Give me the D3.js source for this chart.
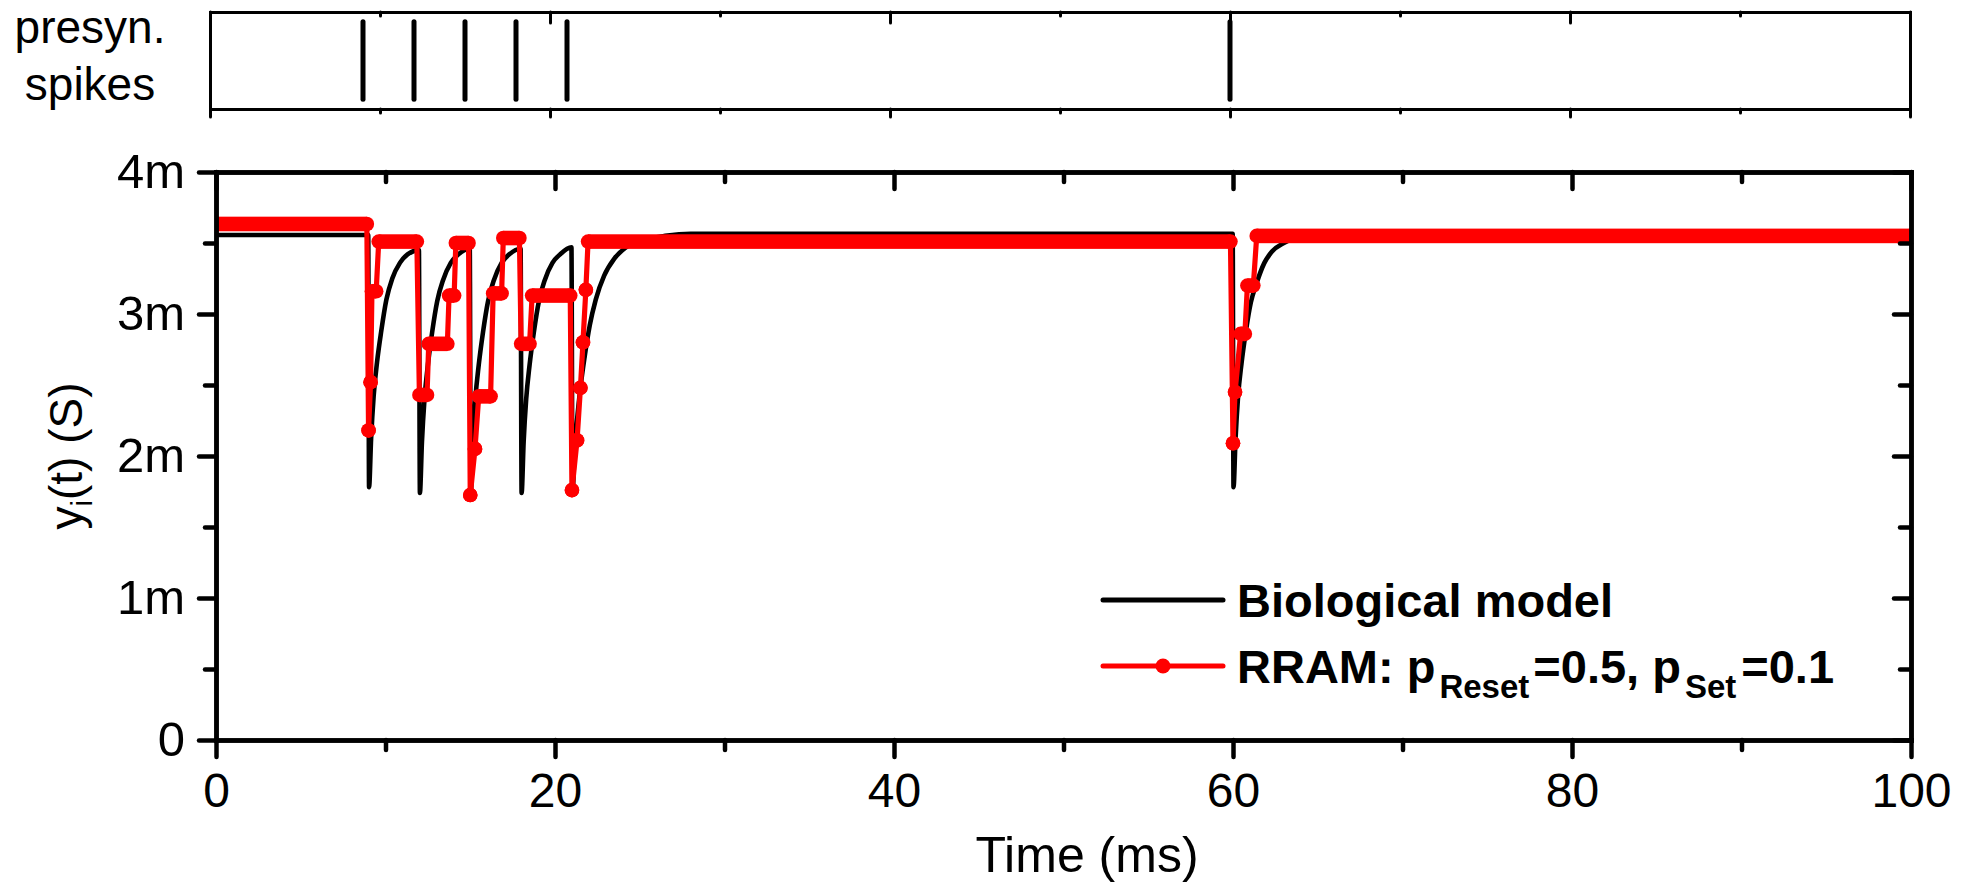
<!DOCTYPE html>
<html><head><meta charset="utf-8">
<script src="https://cdn.jsdelivr.net/npm/d3@7"></script>
<style>
html,body{margin:0;padding:0;background:#fff;}
svg{display:block;}
</style></head><body>
<svg id="chart" width="1973" height="882"></svg>
<script>
// ---------------- data ----------------
const spikeTimes = [9, 12, 15, 18, 21, 60];
const xTicksMajor = [0, 20, 40, 60, 80, 100];
const xTicksMinor = [10, 30, 50, 70, 90];
const yTicksMajor = [0, 1, 2, 3, 4];          // mS
const yTicksMinor = [0.5, 1.5, 2.5, 3.5];
const yTickLabels = ["0", "1m", "2m", "3m", "4m"];

// Biological model (mS)
const bioTime = [0, 8.98, 9.03, 9.15, 9.3, 9.5, 9.75, 10.05, 10.4, 10.85, 11.3, 11.97,
  12.03, 12.15, 12.3, 12.5, 12.75, 13.05, 13.4, 13.85, 14.3, 14.97,
  15.03, 15.15, 15.3, 15.5, 15.75, 16.05, 16.4, 16.85, 17.3, 17.97,
  18.03, 18.15, 18.3, 18.5, 18.75, 19.05, 19.4, 19.85, 20.3, 20.97,
  21.03, 21.15, 21.3, 21.5, 21.75, 22.05, 22.4, 22.9, 23.5, 24.2, 25.2, 26.5, 28,
  59.98, 60.03, 60.15, 60.3, 60.5, 60.75, 61.05, 61.4, 61.85, 62.3, 63, 64, 65.5, 100];
const bioValue = [3.556, 3.556, 1.78, 2.12, 2.42, 2.66, 2.88, 3.10, 3.25, 3.36, 3.42, 3.45,
  1.74, 2.10, 2.40, 2.64, 2.87, 3.09, 3.24, 3.36, 3.42, 3.46,
  1.74, 2.10, 2.40, 2.64, 2.87, 3.09, 3.24, 3.36, 3.42, 3.46,
  1.74, 2.10, 2.40, 2.64, 2.87, 3.09, 3.24, 3.36, 3.42, 3.47,
  1.74, 2.02, 2.25, 2.48, 2.70, 2.92, 3.10, 3.27, 3.39, 3.47, 3.52, 3.55, 3.565,
  3.565, 1.78, 2.12, 2.42, 2.65, 2.87, 3.08, 3.22, 3.36, 3.44, 3.50, 3.545, 3.556, 3.556];

// RRAM: constant-level runs (start ms, end ms, level mS)
const rramStart = [0, 9.0, 9.12, 9.2, 9.6, 12.0, 12.55, 13.75, 14.15, 15.0, 15.28, 15.5, 16.35, 16.95,
  18.0, 18.65, 21.0, 21.3, 21.5, 21.65, 21.82, 21.95, 60.0, 60.12, 60.45, 60.85, 61.4];
const rramEnd = [8.9, 9.0, 9.12, 9.45, 11.85, 12.45, 13.65, 14.05, 14.9, 15.0, 15.28, 16.2, 16.85, 17.9,
  18.5, 20.9, 21.0, 21.3, 21.5, 21.65, 21.82, 59.85, 60.0, 60.12, 60.7, 61.2, 100];
const rramValue = [3.634, 2.18, 2.52, 3.16, 3.51, 2.43, 2.79, 3.13, 3.50, 1.725, 2.05, 2.42, 3.145, 3.535,
  2.79, 3.13, 1.76, 2.11, 2.48, 2.80, 3.17, 3.51, 2.09, 2.45, 2.86, 3.20, 3.55];

const legendLabels = ["Biological model", "RRAM: p"];

// ---------------- layout ----------------
const FONT = '"Liberation Sans", Arial, Helvetica, sans-serif';
const RED = "#ff0000";
const M = {l: 216, r: 1911, t: 172, b: 740};
const P = {l: 210, r: 1910, t: 12, b: 109};

const svg = d3.select("#chart").attr("font-family", FONT);
svg.append("rect").attr("width", 1973).attr("height", 882).attr("fill", "#fff");

const x = d3.scaleLinear().domain([0, 100]).range([M.l, M.r]);
const y = d3.scaleLinear().domain([0, 4]).range([M.b, M.t]);
const xs = d3.scaleLinear().domain([0, 100]).range([P.l, P.r]);
const ys = d3.scaleLinear().domain([0, 1]).range([P.b, P.t]);

function styleAxis(g, dw, tw) {
  g.attr("font-family", FONT);
  g.select(".domain").attr("stroke-width", dw).attr("stroke-linecap", "square");
  g.selectAll(".tick line").attr("stroke-width", tw).attr("stroke-linecap", "round");
  g.selectAll(".tick text").attr("fill", "#000");
  return g;
}

// ---------------- top panel (spikes) ----------------
svg.append("g").selectAll("line").data(spikeTimes).join("line")
  .attr("x1", d => xs(d)).attr("x2", d => xs(d))
  .attr("y1", ys(0.1)).attr("y2", ys(0.9))
  .attr("stroke", "#000").attr("stroke-width", 5).attr("stroke-linecap", "round");

styleAxis(svg.append("g").attr("transform", `translate(0,${P.t})`)
  .call(d3.axisTop(xs).tickValues(xTicksMajor).tickSize(-11).tickSizeOuter(0).tickFormat("")), 3, 3);
styleAxis(svg.append("g").attr("transform", `translate(0,${P.t})`)
  .call(d3.axisTop(xs).tickValues(xTicksMinor).tickSize(-4).tickSizeOuter(0).tickFormat("")), 3, 3);
styleAxis(svg.append("g").attr("transform", `translate(0,${P.b})`)
  .call(d3.axisBottom(xs).tickValues(xTicksMajor).tickSize(8).tickSizeOuter(0).tickFormat("")), 3, 3);
styleAxis(svg.append("g").attr("transform", `translate(0,${P.b})`)
  .call(d3.axisBottom(xs).tickValues(xTicksMinor).tickSize(4).tickSizeOuter(0).tickFormat("")), 3, 3);
styleAxis(svg.append("g").attr("transform", `translate(${P.l},0)`)
  .call(d3.axisLeft(ys).tickValues([]).tickSizeOuter(0)), 3, 3);
styleAxis(svg.append("g").attr("transform", `translate(${P.r},0)`)
  .call(d3.axisRight(ys).tickValues([]).tickSizeOuter(0)), 3, 3);

svg.append("text").attr("x", 90).attr("y", 43).attr("text-anchor", "middle")
  .attr("font-size", 46).text("presyn.");
svg.append("text").attr("x", 90).attr("y", 100).attr("text-anchor", "middle")
  .attr("font-size", 46).text("spikes");

// ---------------- main panel ----------------
svg.append("clipPath").attr("id", "plotclip").append("rect")
  .attr("x", M.l).attr("y", M.t - 20).attr("width", M.r - M.l).attr("height", M.b - M.t + 20);

const plot = svg.append("g").attr("clip-path", "url(#plotclip)");

const bio = bioTime.map((t, i) => [t, bioValue[i]]);
plot.append("path").datum(bio)
  .attr("fill", "none").attr("stroke", "#000").attr("stroke-width", 4.6)
  .attr("stroke-linejoin", "round")
  .attr("d", d3.line().x(d => x(d[0])).y(d => y(d[1])).curve(d3.curveMonotoneX));

const runs = rramStart.map((t, i) => ({t0: t, t1: rramEnd[i], v: rramValue[i]}));
const rramPts = runs.flatMap(r => [[r.t0, r.v], [r.t1, r.v]]);
plot.append("path").datum(rramPts)
  .attr("fill", "none").attr("stroke", RED).attr("stroke-width", 5.2)
  .attr("stroke-linejoin", "round")
  .attr("d", d3.line().x(d => x(d[0])).y(d => y(d[1])));

const R = 7.3;
plot.append("g").selectAll("rect").data(runs).join("rect")
  .attr("x", d => x(d.t0)).attr("width", d => x(d.t1) - x(d.t0))
  .attr("y", d => y(d.v) - R).attr("height", 2 * R).attr("fill", RED);
plot.append("g").selectAll("circle").data(rramPts).join("circle")
  .attr("cx", d => x(d[0])).attr("cy", d => y(d[1])).attr("r", R).attr("fill", RED);

// axes
const fmtY = d => yTickLabels[yTicksMajor.indexOf(d)];
const gxb = styleAxis(svg.append("g").attr("transform", `translate(0,${M.b})`)
  .call(d3.axisBottom(x).tickValues(xTicksMajor).tickSize(17).tickSizeOuter(0).tickPadding(16)), 4.5, 4.5);
gxb.selectAll(".tick text").attr("font-size", 48);
styleAxis(svg.append("g").attr("transform", `translate(0,${M.b})`)
  .call(d3.axisBottom(x).tickValues(xTicksMinor).tickSize(10).tickSizeOuter(0).tickFormat("")), 4.5, 4.5);

const gyl = styleAxis(svg.append("g").attr("transform", `translate(${M.l},0)`)
  .call(d3.axisLeft(y).tickValues(yTicksMajor).tickFormat(fmtY).tickSize(17).tickSizeOuter(0).tickPadding(14)), 4.5, 4.5);
gyl.selectAll(".tick text").attr("font-size", 49);
styleAxis(svg.append("g").attr("transform", `translate(${M.l},0)`)
  .call(d3.axisLeft(y).tickValues(yTicksMinor).tickSize(11).tickSizeOuter(0).tickFormat("")), 4.5, 4.5);

styleAxis(svg.append("g").attr("transform", `translate(0,${M.t})`)
  .call(d3.axisTop(x).tickValues(xTicksMajor).tickSize(-17).tickSizeOuter(0).tickFormat("")), 4.5, 4.5);
styleAxis(svg.append("g").attr("transform", `translate(0,${M.t})`)
  .call(d3.axisTop(x).tickValues(xTicksMinor).tickSize(-10).tickSizeOuter(0).tickFormat("")), 4.5, 4.5);
styleAxis(svg.append("g").attr("transform", `translate(${M.r},0)`)
  .call(d3.axisRight(y).tickValues(yTicksMajor).tickSize(-17).tickSizeOuter(0).tickFormat("")), 4.5, 4.5);
styleAxis(svg.append("g").attr("transform", `translate(${M.r},0)`)
  .call(d3.axisRight(y).tickValues(yTicksMinor).tickSize(-11).tickSizeOuter(0).tickFormat("")), 4.5, 4.5);

// axis titles
svg.append("text").attr("x", 1087).attr("y", 872).attr("text-anchor", "middle")
  .attr("font-size", 50).text("Time (ms)");
const yl = svg.append("text").attr("transform", "translate(82,456) rotate(-90)")
  .attr("text-anchor", "middle").attr("font-size", 46);
yl.append("tspan").text("y");
yl.append("tspan").attr("font-size", 29).attr("dy", 10).text("i");
yl.append("tspan").attr("dy", -10).text("(t) (S)");

// legend
const lg = svg.append("g");
lg.append("line").attr("x1", 1103).attr("x2", 1223).attr("y1", 600).attr("y2", 600)
  .attr("stroke", "#000").attr("stroke-width", 5).attr("stroke-linecap", "round");
lg.append("text").attr("x", 1237).attr("y", 617).attr("font-size", 47).attr("font-weight", "bold")
  .text(legendLabels[0]);
lg.append("line").attr("x1", 1103).attr("x2", 1223).attr("y1", 666).attr("y2", 666)
  .attr("stroke", RED).attr("stroke-width", 5).attr("stroke-linecap", "round");
lg.append("circle").attr("cx", 1163).attr("cy", 666).attr("r", 7.5).attr("fill", RED);
const t2 = lg.append("text").attr("x", 1237).attr("y", 683).attr("font-size", 47).attr("font-weight", "bold");
t2.append("tspan").text(legendLabels[1]);
t2.append("tspan").attr("font-size", 33).attr("dx", 4).attr("dy", 15).text("Reset");
t2.append("tspan").attr("dx", 4).attr("dy", -15).text("=0.5, p");
t2.append("tspan").attr("font-size", 33).attr("dx", 4).attr("dy", 15).text("Set");
t2.append("tspan").attr("dx", 5).attr("dy", -15).text("=0.1");
</script>
</body></html>
